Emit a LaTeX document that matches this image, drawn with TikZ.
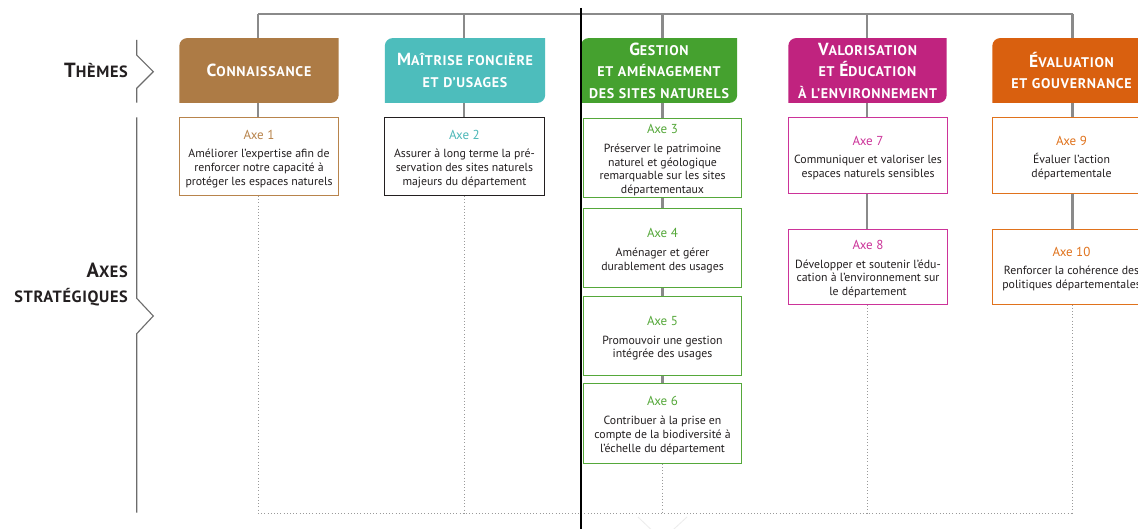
\documentclass[tikz,border=0pt]{standalone}
\usepackage{fontspec}
\setmainfont{PT Sans}
\newfontfamily\capsfont{PT Sans}[LetterSpace=5.0]
\newfontfamily\labfont{PT Sans}[LetterSpace=4.0]
\usetikzlibrary{backgrounds}
\definecolor{cbrown}{HTML}{AD7B45}
\definecolor{cteal}{HTML}{4DBDBC}
\definecolor{cgreen}{HTML}{45A12F}
\definecolor{cmag}{HTML}{C0237F}
\definecolor{corange}{HTML}{D9600F}
\definecolor{tbrown}{HTML}{B8844C}
\definecolor{tteal}{HTML}{4DB8B8}
\definecolor{tgreen}{HTML}{55A83A}
\definecolor{tmag}{HTML}{CC3399}
\definecolor{torange}{HTML}{E0721C}
\definecolor{txt}{HTML}{231F20}
\definecolor{lgrey}{HTML}{8A8A8A}
\definecolor{dgrey}{HTML}{9A9A9A}
\newcommand\Bc[1]{{\fontsize{17.5}{17.5}\selectfont #1}}
\newcommand\Lc[1]{{\fontsize{20.5}{20.5}\selectfont #1}}
\newcommand\axt[2]{\rule{0pt}{14pt}{\color{#1}\fontsize{13}{13}\selectfont #2}\\[5pt]}
\begin{document}
\begin{tikzpicture}[x=1pt,y=-1pt,
  theme/.style={text width=#1, minimum height=64.5pt, inner sep=0pt, align=center,
    text=white, font=\capsfont\bfseries\fontsize{14}{21.5}\selectfont},
  axe/.style={draw=#1, line width=0.8pt, inner sep=0pt, align=center, text=txt,
    font=\fontsize{11.8}{13.8}\selectfont},
  conn/.style={draw=lgrey, line width=2.6pt},
  topline/.style={draw=lgrey, line width=2pt},
  dots/.style={draw=dgrey, line width=1pt, dash pattern=on 0.8pt off 2.4pt},
  brk/.style={draw=gray!85!black, line width=1.1pt},
  lab/.style={font=\labfont\bfseries\fontsize{16.3}{25.3}\selectfont, text=txt, inner sep=0pt}
]
\useasboundingbox (0,0) rectangle (1138,529);
\begin{scope}[on background layer]
\fill[white] (0,0) rectangle (1138,529);
\end{scope}

% column coordinates
\coordinate (c1) at (258,14);
\coordinate (c2) at (464,14);
\coordinate (c3) at (662.7,14);
\coordinate (c4) at (867,14);
\coordinate (c5) at (1072.7,14);
\coordinate (b1) at (258,513.3);
\coordinate (b5) at (1072.7,513.3);

% theme nodes
\node[theme=159pt] (t1) at (259,70.5) {\Bc{C}ONNAISSANCE};
\node[theme=160pt] (t2) at (465,70.5) {\Bc{M}AÎTRISE FONCIÈRE\\ET D’USAGES};
\node[theme=156pt] (t3) at (659,70.5) {\Bc{G}ESTION\\ET AMÉNAGEMENT\\DES SITES NATURELS};
\node[theme=158pt] (t4) at (867.5,70.5) {\Bc{V}ALORISATION\\ET \Bc{É}DUCATION\\À L’ENVIRONNEMENT};
\node[theme=158pt] (t5) at (1071.5,70.5) {\Bc{É}VALUATION\\ET GOUVERNANCE};

\begin{scope}[on background layer]
\foreach \n/\c in {t1/cbrown,t2/cteal,t3/cgreen,t4/cmag,t5/corange}{
  \fill[\c] (\n.south west) [rounded corners=8pt] -- (\n.north west) [sharp corners] -- (\n.north east)
    [rounded corners=8pt] -- (\n.south east) [sharp corners] -- cycle;
}
\end{scope}

% axe nodes
\node[axe=tbrown, minimum width=159.4pt, minimum height=78.4pt] (a1) at (259,156.5)
  {\axt{tbrown}{Axe 1}Améliorer l’expertise afin de\\renforcer notre capacité à\\protéger les espaces naturels};
\node[axe=txt, minimum width=160.6pt, minimum height=78.4pt] (a2) at (464.4,156.5)
  {\axt{tteal}{Axe 2}Assurer à long terme la pré-\\servation des sites naturels\\majeurs du département};
\node[axe=tgreen, minimum width=158.4pt, minimum height=79pt] (a3) at (662.5,157.8)
  {\axt{tgreen}{Axe 3}Préserver le patrimoine\\naturel et géologique\\remarquable sur les sites\\départementaux};
\node[axe=tgreen, minimum width=158.4pt, minimum height=79.4pt] (a4) at (662.5,248)
  {\axt{tgreen}{Axe 4}Aménager et gérer\\durablement des usages};
\node[axe=tgreen, minimum width=158.4pt, minimum height=79.7pt] (a5) at (662.5,335.8)
  {\axt{tgreen}{Axe 5}Promouvoir une gestion\\intégrée des usages};
\node[axe=tgreen, minimum width=158.4pt, minimum height=80pt] (a6) at (662.5,423.3)
  {\axt{tgreen}{Axe 6}Contribuer à la prise en\\compte de la biodiversité à\\l’échelle du département};
\node[axe=tmag, minimum width=159.4pt, minimum height=75.6pt] (a7) at (868,155.5)
  {\axt{tmag}{Axe 7}Communiquer et valoriser les\\espaces naturels sensibles};
\node[axe=tmag, minimum width=159.4pt, minimum height=75.3pt] (a8) at (868,266.6)
  {\axt{tmag}{Axe 8}Développer et soutenir l’édu-\\cation à l’environnement sur\\le département};
\node[axe=torange, minimum width=158pt, minimum height=75.6pt] (a9) at (1071.5,155.5)
  {\axt{torange}{Axe 9}Évaluer l’action\\départementale};
\node[axe=torange, minimum width=158pt, minimum height=75.3pt] (a10) at (1071.5,266.6)
  {\axt{torange}{Axe 10}Renforcer la cohérence des\\politiques départementales};

% connectors
\begin{scope}[on background layer]
\draw[topline] (c1) -- (c5);
\draw[conn] (c1) -- (c1 |- t1.north);
\draw[conn] (c2) -- (c2 |- t2.north);
\draw[conn] (c3) -- (c3 |- t3.north);
\draw[conn] (c4) -- (c4 |- t4.north);
\draw[conn] (c5) -- (c5 |- t5.north);
\draw[conn] (c1 |- t1.south) -- (c1 |- a1.north);
\draw[conn] (c2 |- t2.south) -- (c2 |- a2.north);
\draw[conn] (c3 |- t3.south) -- (c3 |- a3.north);
\draw[conn] (c4 |- t4.south) -- (c4 |- a7.north);
\draw[conn] (c5 |- t5.south) -- (c5 |- a9.north);
\draw[conn] (c3 |- a3.south) -- (c3 |- a4.north);
\draw[conn] (c3 |- a4.south) -- (c3 |- a5.north);
\draw[conn] (c3 |- a5.south) -- (c3 |- a6.north);
\draw[conn] (c4 |- a7.south) -- (c4 |- a8.north);
\draw[conn] (c5 |- a9.south) -- (c5 |- a10.north);
\draw[dots] (c1 |- a1.south) -- (b1);
\draw[dots] (c2 |- a2.south) -- (c2 |- b1);
\draw[dots] (c3 |- a6.south) -- (c3 |- b1);
\draw[dots] (c4 |- a8.south) -- (c4 |- b1);
\draw[dots] (c5 |- a10.south) -- (b5);
\draw[dots] (b1) -- (b5);
\draw[gray!15, line width=0.8pt] (638,517) -- (662,540) -- (687,517);
\end{scope}

% left labels and brackets
\node[lab, anchor=base east] (lthemes) at (128,78) {\Lc{T}HÈMES};
\node[lab, anchor=base east, align=right] (laxes) at (128,302.7) {\Lc{A}XES\\STRATÉGIQUES};
\draw[brk] (136.7,40) -- (136.7,55) -- (153.3,71.7) -- (136.7,88.3) -- (136.7,102.7);
\draw[brk] (136.7,117.3) -- (136.7,298.3) -- (153.3,316) -- (136.7,333.7) -- (136.7,512.7);

% black vertical rule
\draw[black, line width=1.1pt] (581,8) -- (581,529);
\end{tikzpicture}
\end{document}
